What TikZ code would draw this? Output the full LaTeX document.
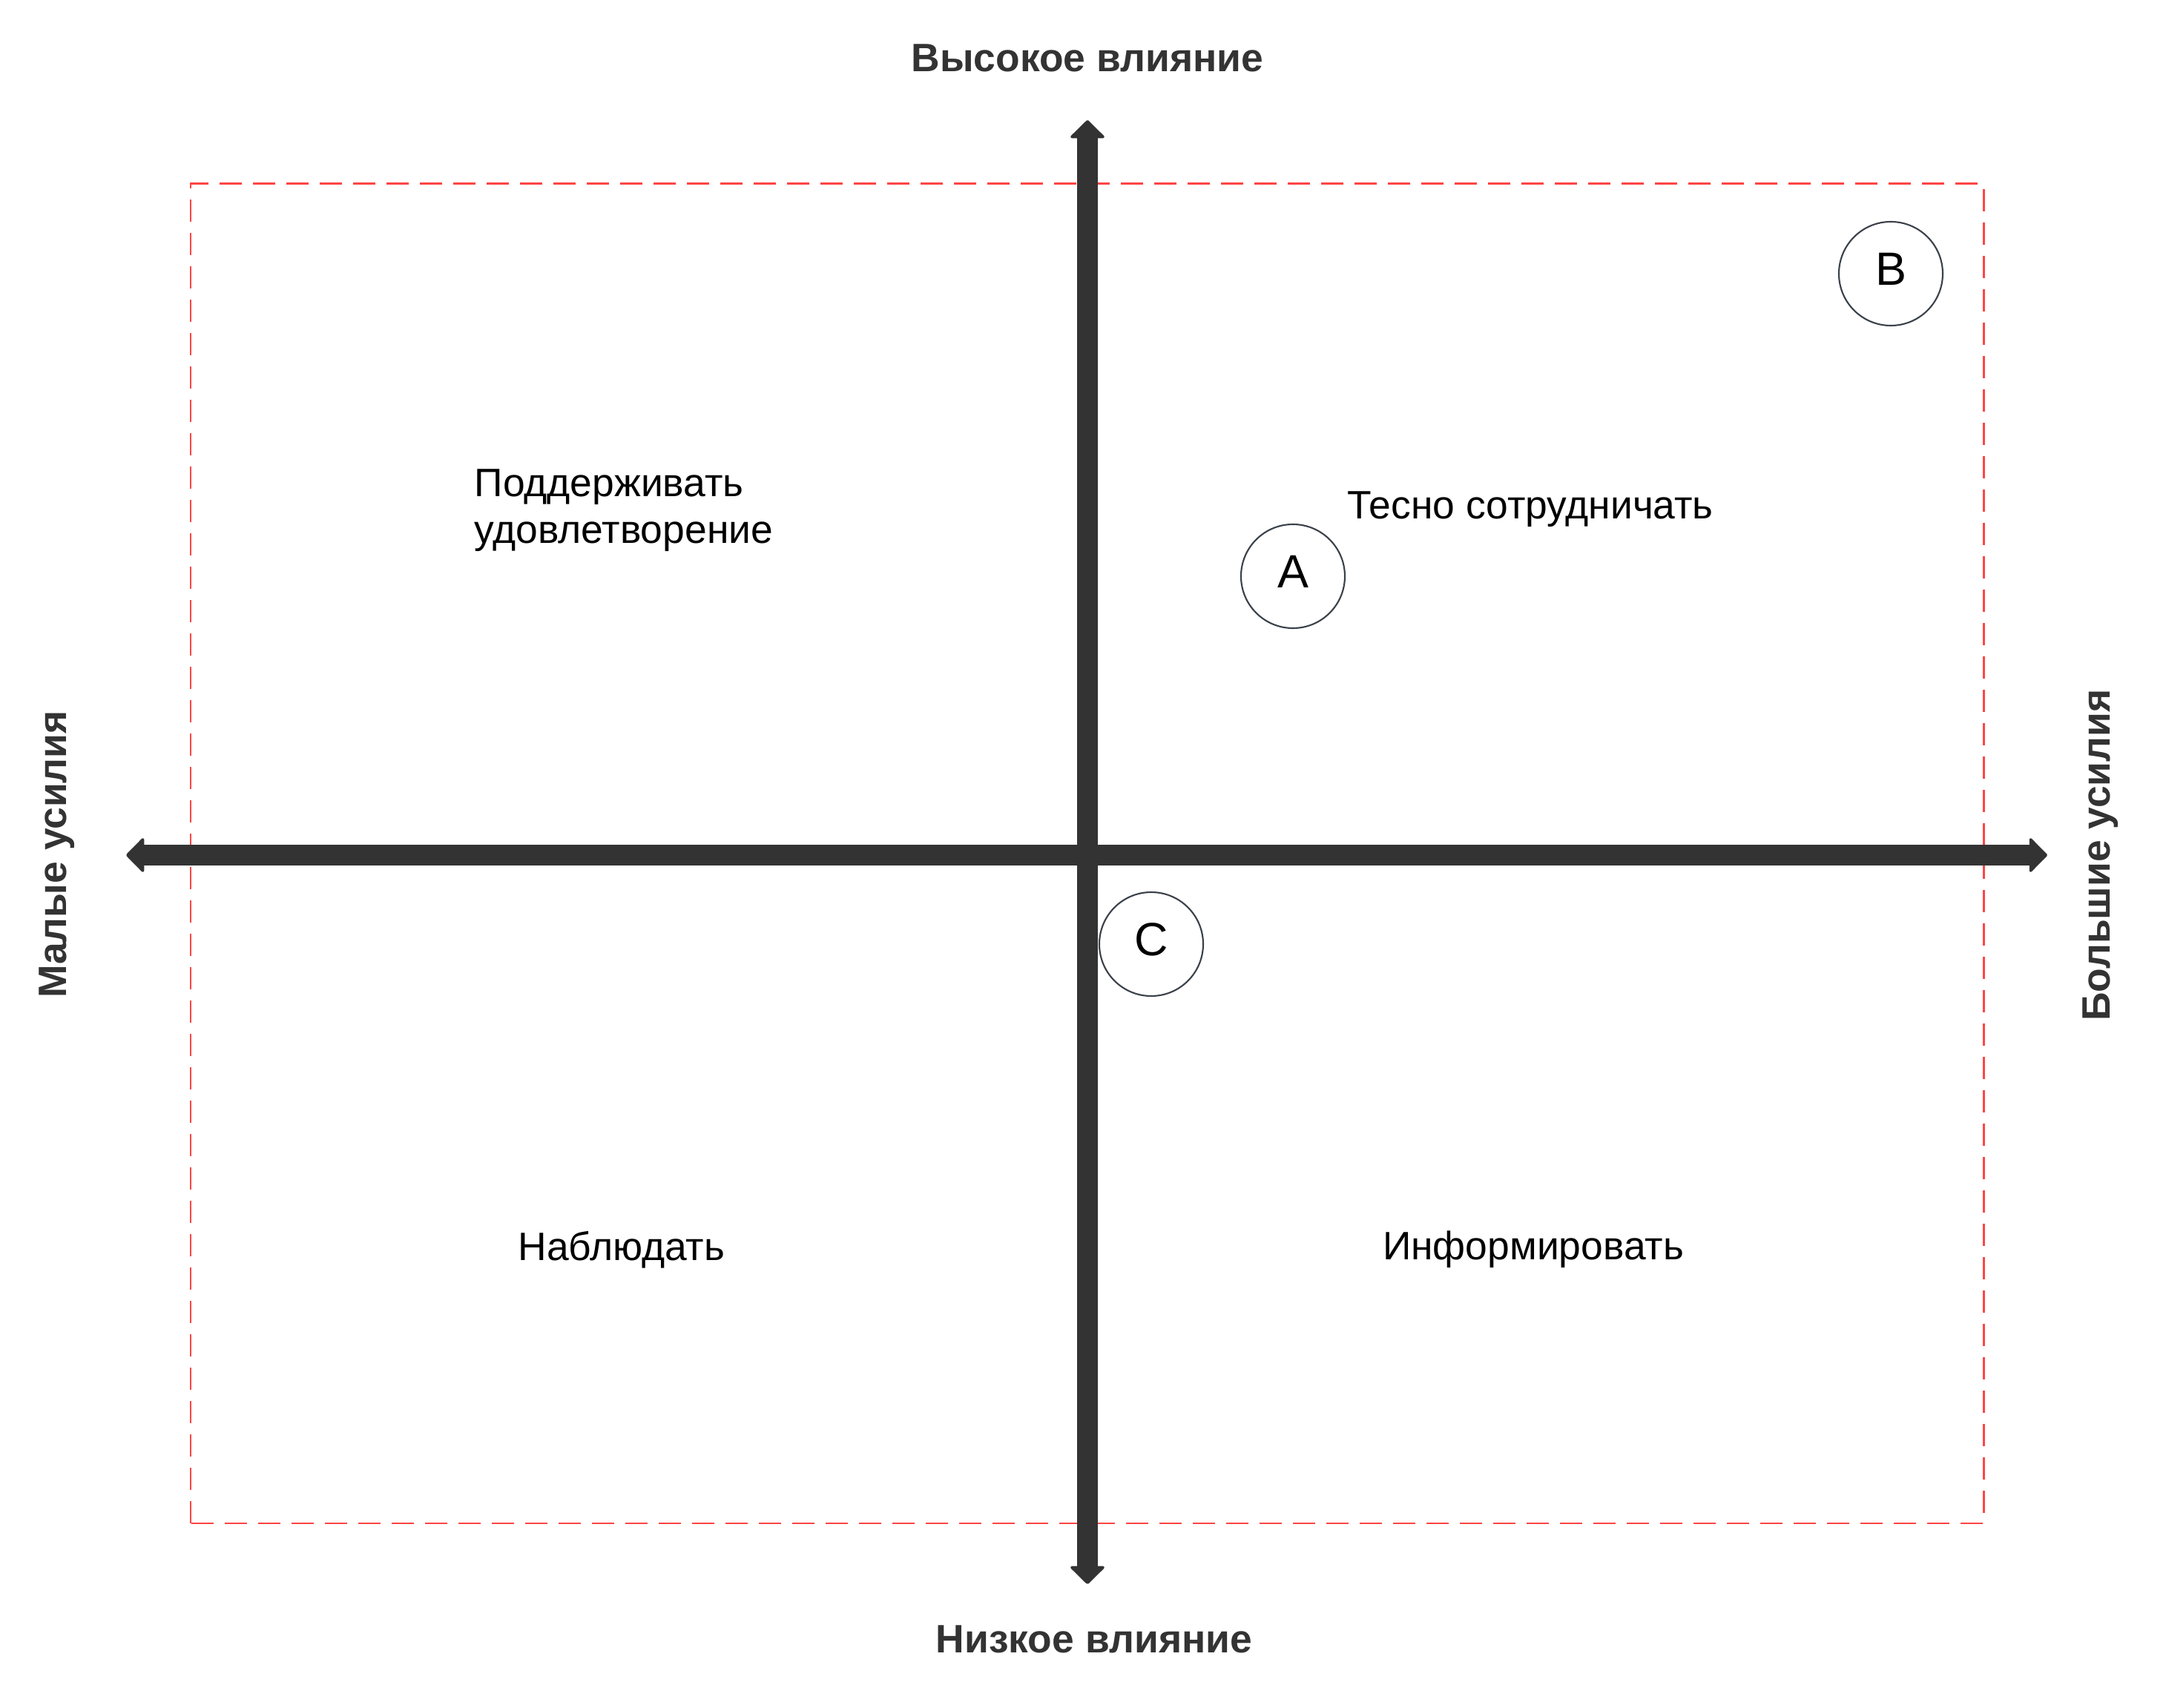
\documentclass[tikz,border=0pt]{standalone}
\usepackage{fontspec}
\setmainfont{Liberation Sans}
\usetikzlibrary{arrows.meta}
\definecolor{axisgray}{HTML}{333333}
\definecolor{dashred}{HTML}{FF4545}
\definecolor{ringgray}{HTML}{3A414A}

\begin{document}
\begin{tikzpicture}[
		>={Triangle[width=0.5cm,length=0.25cm,line width=1pt,round]},
		axis/.style={draw=axisgray, line width=0.28cm, <->},
		zone/.style={draw=dashred, line width=0.85pt, dash pattern=on 0.3cm off 0.15cm},
		ring/.style={circle, draw=ringgray, line width=0.6pt, minimum size=1.4cm, inner sep=0pt, text height=12.8pt, text depth=4pt, font=\fontsize{17.9}{21}\selectfont},
		quad/.style={font=\fontsize{15.2}{17.9}\selectfont, inner sep=0pt},
		axislbl/.style={font=\fontsize{15.2}{17.9}\selectfont\bfseries, text=axisgray, inner sep=0pt}
	]
		\useasboundingbox (0, 0) rectangle (29.2, 23.02);
		
		%%%%% FRAME %%%%%
		\draw[zone] (2.57, 2.48) rectangle (26.74, 20.54);
		
		%%%%% AXES %%%%%
		\coordinate (hi) at (14.66, 21.40);
		\coordinate (lo) at (14.66, 1.66);
		\coordinate (le) at (1.70, 11.49);
		\coordinate (ri) at (27.60, 11.49);
		\draw[axis] (lo) -- (hi);
		\draw[axis] (le) -- (ri);
		
		\node[axislbl] (high) at (14.66, 22.24) {Высокое влияние};
		\node[axislbl] (low) at (14.75, 0.92) {Низкое влияние};
		\node[axislbl, rotate=90] (small) at (0.77, 11.50) {Малые усилия};
		\node[axislbl, rotate=90] (big) at (28.32, 11.49) {Большие усилия};
		
		%%%%% QUADRANTS %%%%%
		\node[quad, anchor=west, align=left] (keep) at (6.39, 16.14) {Поддерживать\\удовлетворение};
		\node[quad] (close) at (20.63, 16.15) {Тесно сотрудничать};
		\node[quad] (watch) at (8.38, 6.17) {Наблюдать};
		\node[quad] (inform) at (20.67, 6.17) {Информировать};
		
		%%%%% STAKEHOLDERS %%%%%
		\node[ring] (A) at (17.43, 15.25) {A};
		\node[ring] (B) at (25.49, 19.33) {B};
		\node[ring] (C) at (15.52, 10.29) {C};
	\end{tikzpicture}
\end{document}
